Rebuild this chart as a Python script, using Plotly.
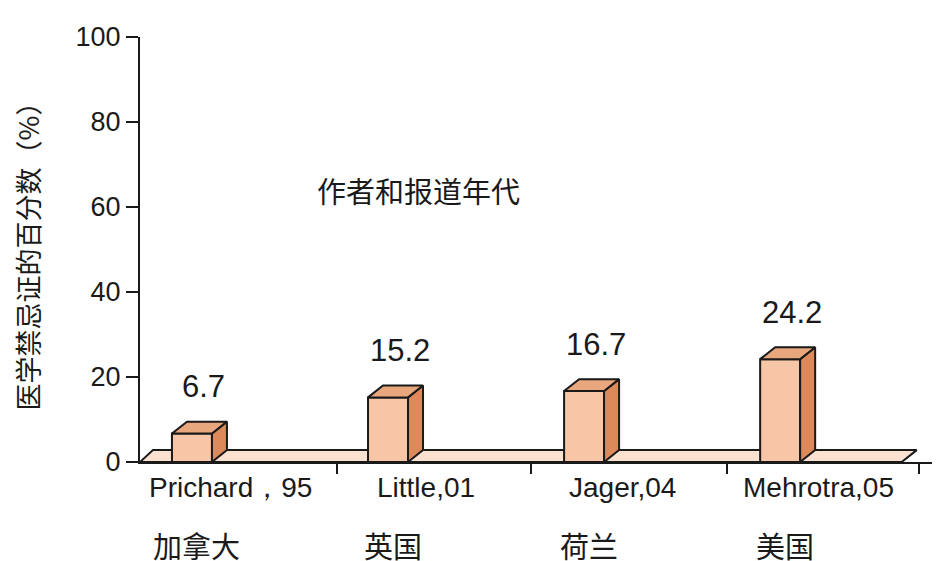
import plotly.graph_objects as go

authors = ["Prichard，95", "Little,01", "Jager,04", "Mehrotra,05"]
countries = ["加拿大", "英国", "荷兰", "美国"]
values = [6.7, 15.2, 16.7, 24.2]
yticks = [0, 20, 40, 60, 80, 100]

W = 0.204   # bar width in x units
DX = 0.0765 # depth offset x
DY = 2.8    # depth offset y
LINE = dict(color="#1a1a1a", width=2)
FONT = "Liberation Sans, Arial, sans-serif"
CJK = "Noto Sans CJK SC"

fig = go.Figure()
fx1 = 3.62
fig.add_trace(go.Scatter(x=[-0.265, fx1, fx1 + DX, -0.265 + 0.066, -0.265],
                         y=[0, 0, DY, DY, 0], mode="lines", fill="toself",
                         fillcolor="#FBE1CF", line=LINE, hoverinfo="skip", showlegend=False))
for i, v in enumerate(values):
    l, r = i - W/2, i + W/2
    fig.add_trace(go.Scatter(x=[l, r, r, l, l], y=[0, 0, v, v, 0], mode="lines", fill="toself",
                             fillcolor="#F6C6A6", line=LINE, hoverinfo="skip", showlegend=False))
    fig.add_trace(go.Scatter(x=[r, r+DX, r+DX, r, r], y=[0, DY, v+DY, v, 0], mode="lines", fill="toself",
                             fillcolor="#DC8A5C", line=LINE, hoverinfo="skip", showlegend=False))
    fig.add_trace(go.Scatter(x=[l, r, r+DX, l+DX, l], y=[v, v, v+DY, v+DY, v], mode="lines", fill="toself",
                             fillcolor="#E9A77E", line=LINE, hoverinfo="skip", showlegend=False))
    fig.add_annotation(x=i + 0.06, y=v, text=f"{v}", showarrow=False, yshift=47,
                       font=dict(size=31, family=FONT, color="#1a1a1a"))
    fig.add_annotation(x=i + 0.195, y=0, text=authors[i], showarrow=False, yshift=-25,
                       font=dict(size=28, family=FONT, color="#1a1a1a"))
    fig.add_annotation(x=i + 0.025, y=0, text=countries[i], showarrow=False, yshift=-83,
                       font=dict(size=29, family=CJK, color="#1a1a1a"))

fig.add_annotation(x=(418-192)/196, y=(462-190)/4.25, text="作者和报道年代", showarrow=False,
                   font=dict(size=29, family=CJK, color="#1a1a1a"))

fig.update_layout(
    width=932, height=553, margin=dict(l=132, r=3, t=29, b=99),
    paper_bgcolor="white", plot_bgcolor="white",
    xaxis=dict(range=[-0.265, 3.80], showgrid=False, zeroline=False,
               tickvals=[0.74, 1.73, 2.73, 3.71], ticktext=["", "", "", ""],
               ticks="outside", ticklen=10, tickwidth=2, tickcolor="#1a1a1a",
               showline=True, linecolor="#1a1a1a", linewidth=2, fixedrange=True),
    yaxis=dict(range=[0, 100], tickvals=yticks, showgrid=False, zeroline=False,
               ticks="outside", ticklen=12, tickwidth=2, tickcolor="#1a1a1a",
               showline=True, linecolor="#1a1a1a", linewidth=2,
               tickfont=dict(size=27, family=FONT, color="#1a1a1a"),
               title=dict(text="医学禁忌证的百分数（%）", standoff=40,
                          font=dict(size=27, family=CJK, color="#1a1a1a"))),
)
fig.write_html("out.html")
